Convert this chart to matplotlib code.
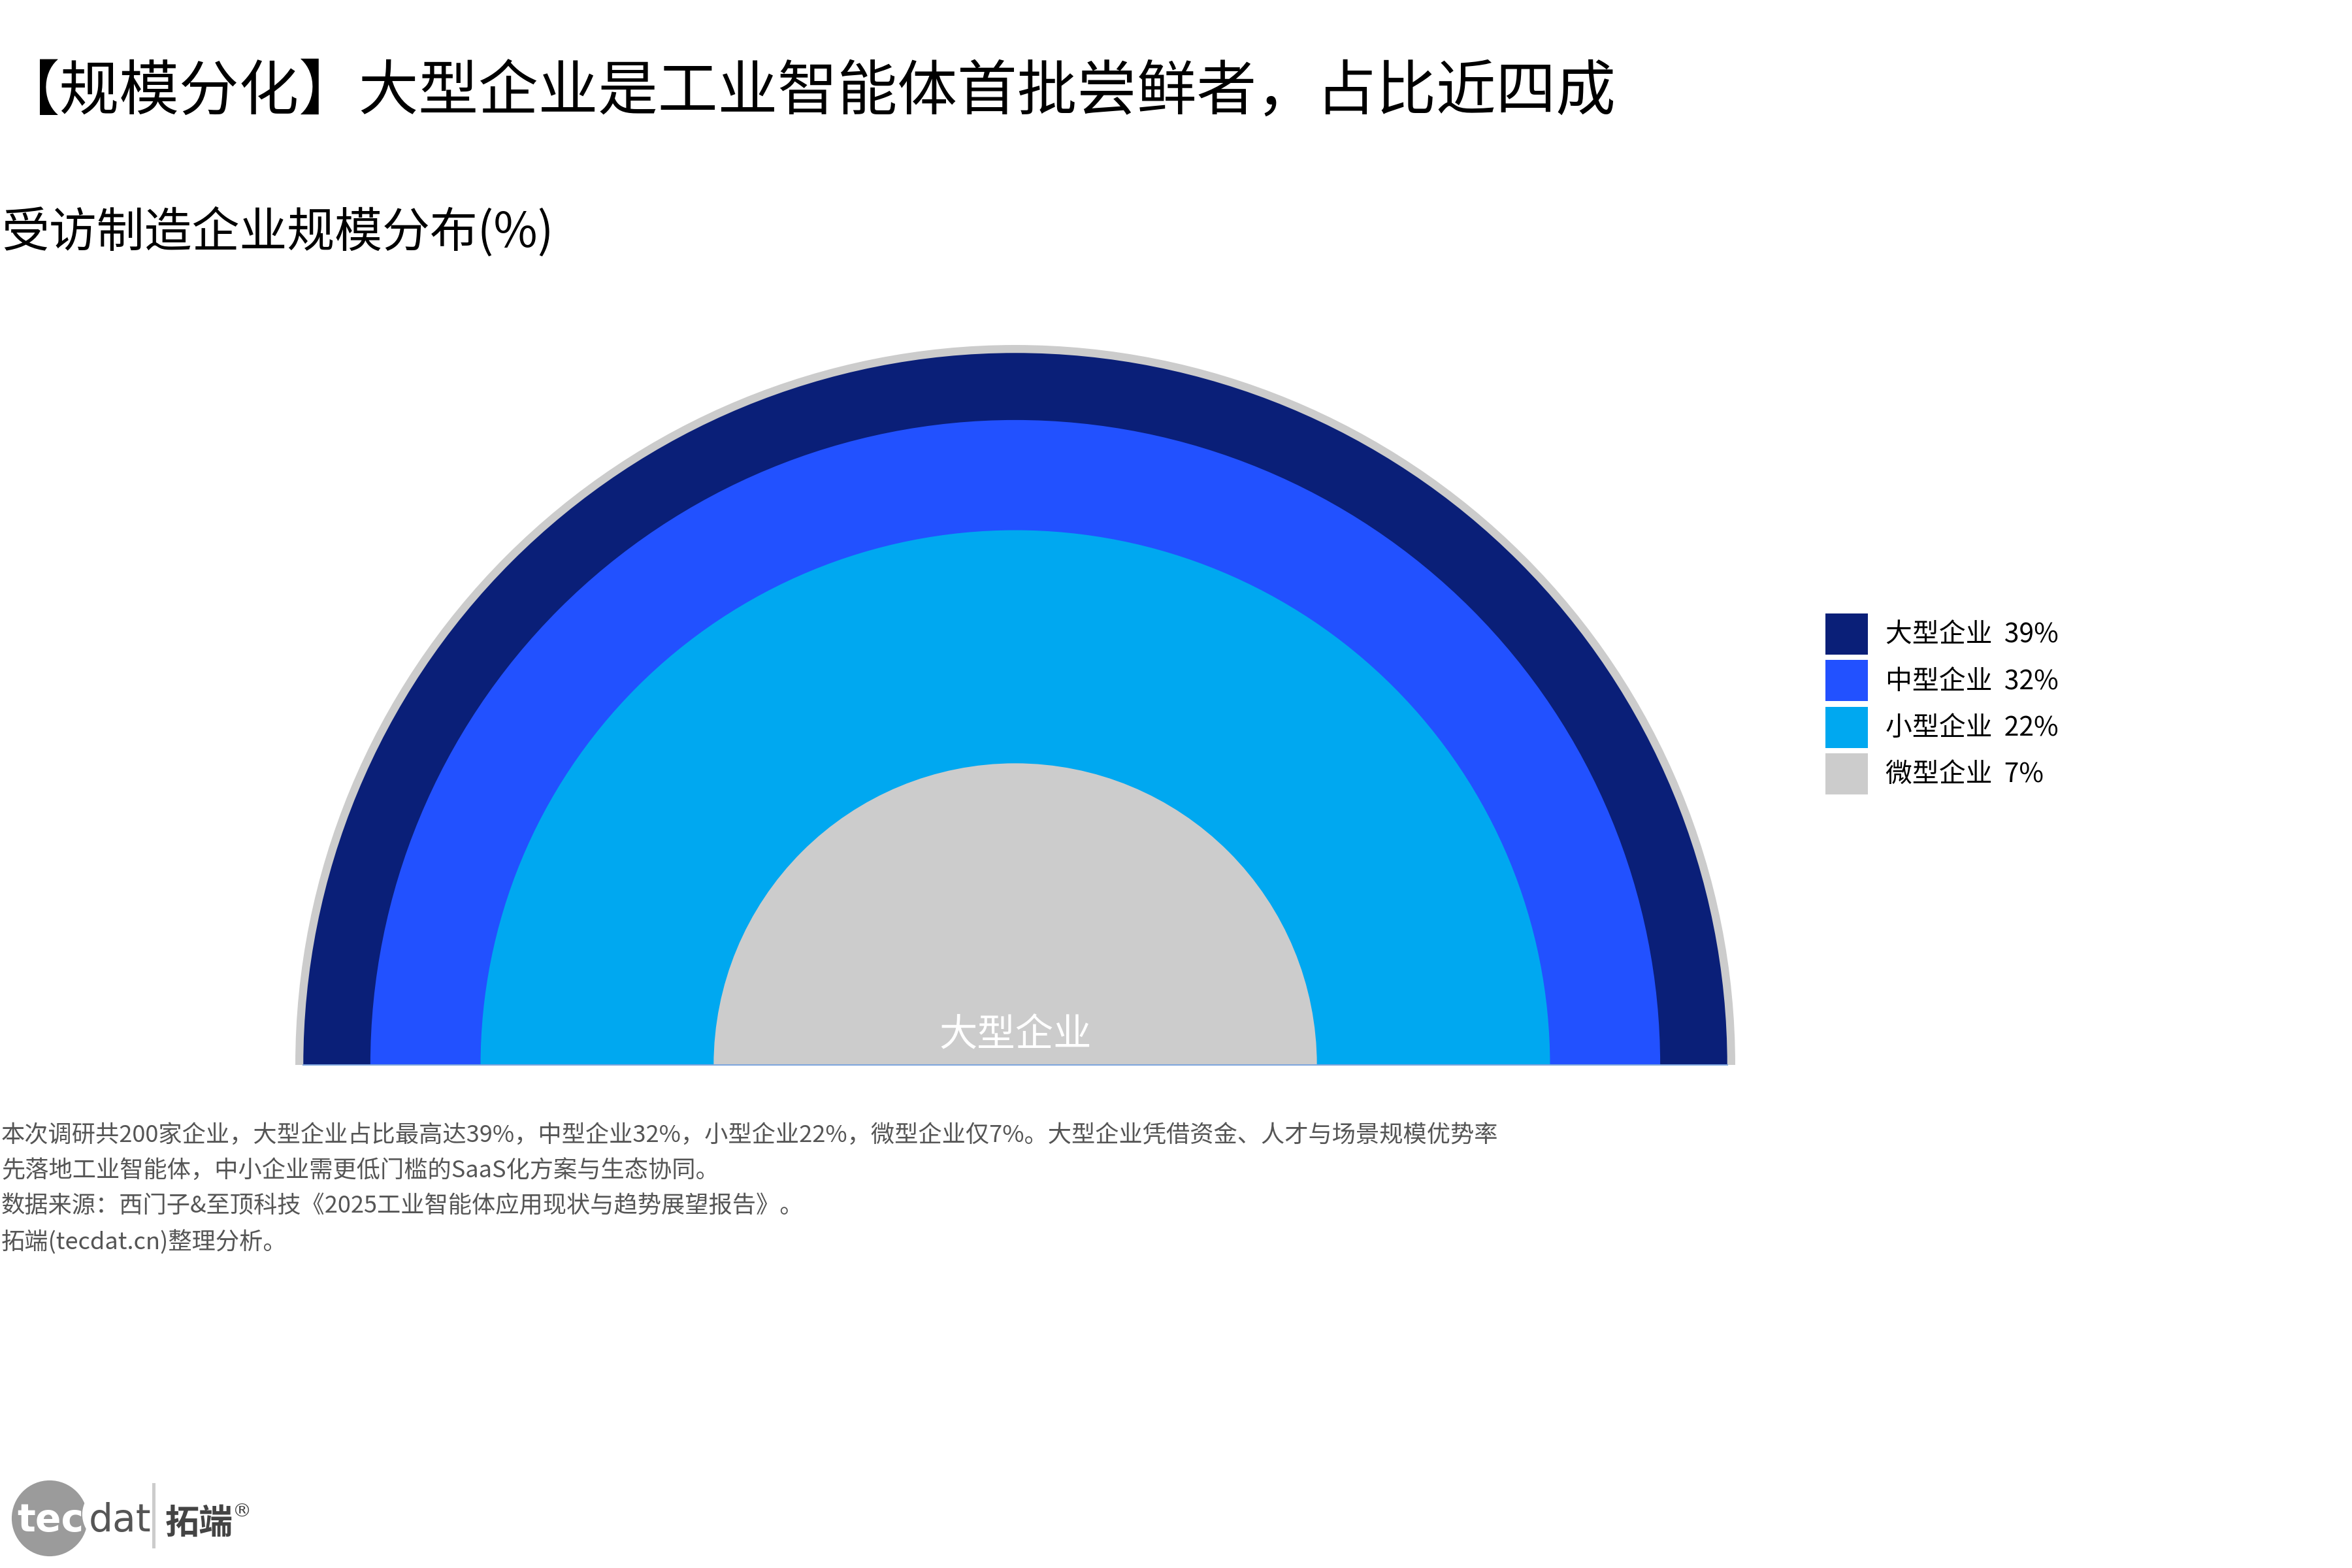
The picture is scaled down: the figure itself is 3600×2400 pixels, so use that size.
import matplotlib
matplotlib.use('Agg')
import matplotlib.pyplot as plt
from matplotlib.patches import Wedge, Circle, Patch
import numpy as np

plt.rcParams['font.family'] = ['Noto Sans CJK SC', 'DejaVu Sans']

# 数据
categories = ['大型企业', '中型企业', '小型企业', '微型企业']
shares = [39, 32, 22, 7]
colors = ['#0a1f78', '#2251ff', '#00a8f0', '#cccccc']

title = '【规模分化】大型企业是工业智能体首批尝鲜者，占比近四成'
subtitle = '受访制造企业规模分布(%)'
notes = [
    '本次调研共200家企业，大型企业占比最高达39%，中型企业32%，小型企业22%，微型企业仅7%。大型企业凭借资金、人才与场景规模优势率',
    '先落地工业智能体，中小企业需更低门槛的SaaS化方案与生态协同。',
    '数据来源：西门子&至顶科技《2025工业智能体应用现状与趋势展望报告》。',
    '拓端(tecdat.cn)整理分析。',
]

W, H = 3600, 2400
fig = plt.figure(figsize=(12, 8), dpi=300)

# 画布层：文字和logo，用像素坐标
bg = fig.add_axes([0, 0, 1, 1])
bg.set_xlim(0, W)
bg.set_ylim(H, 0)
bg.axis('off')

bg.text(0, 142, title, fontsize=22, va='center', ha='left', color='black')
bg.text(2, 356, subtitle, fontsize=17.5, va='center', ha='left', color='black')
for i, line in enumerate(notes):
    bg.text(2, 1738 + i * 54.5, line, fontsize=8.7, va='center', ha='left', color='#555555')

# logo
bg.add_patch(Circle((76, 2324), 56, color='#9b9b9b'))
bg.add_patch(Circle((170, 2318), 42, color='white'))
bg.text(26, 2344, 'tec', fontsize=14, color='white', fontweight='semibold', family='DejaVu Sans')
bg.text(136, 2344, 'dat', fontsize=14, color='#555555', family='DejaVu Sans')
bg.plot([235, 235], [2272, 2367], color='#cccccc', lw=1.2)
bg.text(253, 2347, '拓端', fontsize=12.5, color='#444444', fontweight='bold')
bg.text(356, 2314, '®', fontsize=7, color='#444444', va='center', family='DejaVu Sans')

# 半圆图：半径与占比的平方根成正比（面积对应占比）
scale = 174.5  # 像素 / 单位
cx, cy = 1554, 1630
lim_x = (-7, 7)
lim_y = (-0.5, 7)
ax = fig.add_axes([(cx + lim_x[0] * scale) / W,
                   (H - cy + lim_y[0] * scale) / H,
                   (lim_x[1] - lim_x[0]) * scale / W,
                   (lim_y[1] - lim_y[0]) * scale / H])
ax.set_xlim(*lim_x)
ax.set_ylim(*lim_y)
ax.set_aspect('equal')
ax.axis('off')

radii = np.sqrt(shares)
ax.add_patch(Wedge((0, 0), radii.max() + 0.07, 0, 180, facecolor='#cccccc', edgecolor='none'))
for r, c in sorted(zip(radii, colors), reverse=True):
    ax.add_patch(Wedge((0, 0), r, 0, 180, facecolor=c, edgecolor='none'))
ax.plot([-radii.max(), radii.max()], [0, 0], color='#7fa6dd', lw=0.5)
ax.text(0, 0.26, categories[0], color='white', fontsize=14, ha='center', va='center')

handles = [Patch(facecolor=c, edgecolor='none') for c in colors]
labels = [f'{n}  {v}%' for n, v in zip(categories, shares)]
fig.legend(handles, labels, loc='upper left', bbox_to_anchor=(2794 / W, 1 - 939 / H),
           frameon=False, fontsize=9.8, handlelength=1.6, handleheight=2.0,
           handletextpad=0.66, labelspacing=0.2, borderpad=0, borderaxespad=0)

fig.savefig('out.png', dpi=300)
